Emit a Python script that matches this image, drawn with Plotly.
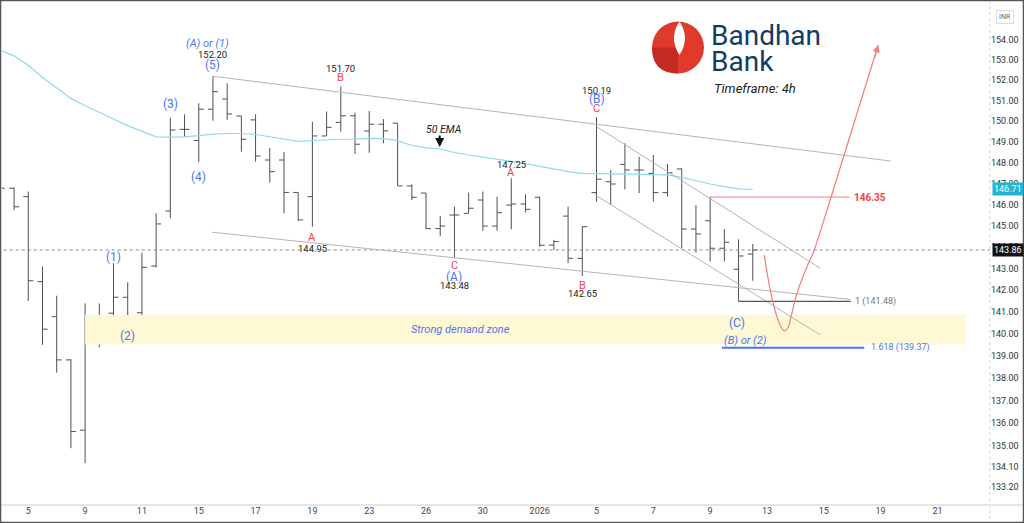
import numpy as np
import plotly.graph_objects as go

# ---------------- data ----------------
bar_index = list(range(-2, 52))
opens = [146.90, 146.77, 146.37, 142.39, 140.78, 138.82, 135.69, 140.28, 140.94, 141.67,
         140.96, 143.11, 145.69, 149.60, 149.06, 150.58, 151.08, 150.25, 150.06, 148.12,
         148.12, 146.57, 146.37, 149.28, 149.94, 150.26, 149.52, 149.85, 149.90, 146.88,
         146.54, 144.86, 145.50, 145.58, 146.21, 144.98, 145.97, 146.02, 146.34, 144.09,
         145.45, 143.47, 146.56, 147.08, 147.91, 147.64, 147.48, 146.56, 147.69, 144.84,
         145.23, 143.94, 142.96, 143.67]
highs = [147.10, 146.80, 146.61, 143.08, 141.74, 138.85, 141.39, 141.39, 143.24, 142.36,
         143.73, 145.58, 150.17, 150.33, 150.87, 152.20, 151.85, 150.25, 150.33, 148.69,
         148.51, 146.57, 149.97, 150.47, 151.70, 150.41, 150.49, 150.10, 149.90, 146.96,
         146.54, 145.46, 145.90, 146.56, 146.61, 146.37, 147.25, 146.48, 146.37, 144.33,
         145.90, 144.95, 150.19, 147.64, 148.93, 148.28, 148.36, 147.93, 147.72, 145.97,
         146.35, 144.83, 144.36, 144.14]
lows = [146.60, 145.74, 141.50, 139.50, 138.25, 134.90, 134.25, 139.39, 140.18, 140.40,
        140.51, 143.05, 145.35, 149.25, 148.01, 150.02, 150.06, 148.52, 148.04, 147.04,
        145.58, 145.23, 144.95, 149.28, 149.49, 148.41, 148.47, 148.93, 146.88, 146.21,
        144.83, 144.50, 143.48, 145.58, 144.76, 144.76, 144.83, 145.61, 144.01, 143.86,
        143.25, 142.65, 146.13, 145.97, 146.72, 146.54, 146.13, 146.37, 143.94, 143.73,
        143.32, 143.32, 141.48, 142.43]
closes = [146.77, 145.89, 142.43, 140.21, 138.82, 135.63, 140.30, 140.83, 141.67, 140.68,
          143.05, 145.08, 149.57, 149.60, 150.58, 151.44, 150.35, 149.12, 148.31, 147.56,
          146.57, 145.27, 149.28, 149.70, 150.26, 148.88, 149.85, 149.53, 146.88, 146.34,
          144.86, 144.98, 145.50, 145.82, 144.98, 145.61, 146.02, 145.77, 144.08, 144.25,
          143.47, 144.95, 147.20, 146.97, 147.64, 147.64, 146.56, 147.51, 144.84, 144.61,
          143.94, 144.22, 143.58, 143.86]
ema50 = [153.50, 153.21, 152.74, 152.14, 151.62, 151.11, 150.75, 150.41, 150.10, 149.78,
         149.50, 149.24, 149.22, 149.24, 149.30, 149.37, 149.40, 149.40, 149.35, 149.23,
         149.11, 149.02, 149.06, 149.10, 149.12, 149.13, 149.16, 149.15, 149.05, 148.82,
         148.70, 148.65, 148.48, 148.36, 148.26, 148.14, 148.06, 147.95, 147.81, 147.69,
         147.56, 147.48, 147.46, 147.45, 147.44, 147.43, 147.42, 147.41, 147.29, 147.12,
         146.97, 146.85, 146.74, 146.71]

tick_pos = [0, 4, 8, 12, 16, 20, 24, 28, 32, 36, 40, 44, 48, 52, 56, 60, 64]
tick_labels = ["5", "9", "11", "15", "17", "19", "23", "26", "30", "2026",
               "5", "7", "9", "13", "15", "19", "21"]
price_ticks = [154, 153, 152, 151, 150, 149, 148, 147, 146, 145, 144, 143, 142, 141,
               140, 139, 138, 137, 136, 135, 134.1, 133.2]

# drawn lines (bar index, price)
upper_channel_x = [13, 60.7];   upper_channel_y = [152.20, 148.07]
lower_channel_x = [12.94, 57.87]; lower_channel_y = [144.69, 141.57]
desc_upper_x = [40, 55.75];     desc_upper_y = [149.73, 143.01]
desc_lower_x = [39.9, 55.75];   desc_lower_y = [146.45, 139.95]
level_red_x = [48, 57.82];      level_red = 146.35
fib_1_x = [50, 57.9];           fib_1 = 141.48
fib_1618_x = [48.83, 58.85];    fib_1618 = 139.37
zone_x = [4, 65.97];            zone_top, zone_bot = 140.86, 139.51
last_price = 143.86
ema_last = 146.71
curve_x = [51.81, 52.23, 52.70, 53.00, 53.22, 53.50, 53.64, 54.11, 54.82, 55.28, 56.45, 59.83]
curve_y = [143.63, 142.00, 140.78, 140.30, 140.13, 140.30, 140.63, 141.85, 143.08, 143.78, 146.21, 153.75]

BLUE = "#4a77ef"
RED = "#f2414f"
DARK = "#222222"
L = np.log10

fig = go.Figure()

# demand zone
fig.add_trace(go.Scatter(x=[zone_x[0], zone_x[1], zone_x[1], zone_x[0], zone_x[0]],
                         y=[zone_top, zone_top, zone_bot, zone_bot, zone_top],
                         fill="toself", fillcolor="#fff8d4", mode="lines",
                         line=dict(width=0), hoverinfo="skip"))
# last price dotted line
fig.add_trace(go.Scatter(x=[-3, 70], y=[last_price, last_price], mode="lines",
                         line=dict(color="#888888", width=1, dash="dot"), hoverinfo="skip"))
# EMA
fig.add_trace(go.Scatter(x=bar_index, y=ema50, mode="lines",
                         line=dict(color="#8edbe8", width=1.2), hoverinfo="skip"))
# trendlines
for xs, ys in [(upper_channel_x, upper_channel_y), (lower_channel_x, lower_channel_y),
               (desc_upper_x, desc_upper_y), (desc_lower_x, desc_lower_y)]:
    fig.add_trace(go.Scatter(x=xs, y=ys, mode="lines",
                             line=dict(color="#b4b4b4", width=1), hoverinfo="skip"))
# levels
fig.add_trace(go.Scatter(x=level_red_x, y=[level_red] * 2, mode="lines",
                         line=dict(color="#f47c7c", width=1), hoverinfo="skip"))
fig.add_trace(go.Scatter(x=fib_1_x, y=[fib_1] * 2, mode="lines",
                         line=dict(color="#555555", width=1.3), hoverinfo="skip"))
fig.add_trace(go.Scatter(x=fib_1618_x, y=[fib_1618] * 2, mode="lines",
                         line=dict(color=BLUE, width=2), hoverinfo="skip"))
# projection curve
fig.add_trace(go.Scatter(x=curve_x, y=curve_y, mode="lines", line_shape="spline",
                         line=dict(color="#f47c7c", width=1.2), hoverinfo="skip"))
# OHLC bars
fig.add_trace(go.Ohlc(x=bar_index, open=opens, high=highs, low=lows, close=closes,
                      increasing=dict(line=dict(color="#505050", width=1)),
                      decreasing=dict(line=dict(color="#505050", width=1)),
                      tickwidth=0.35, hoverinfo="skip"))

ann = []


def lab(text, x, price, yshift, color, size, italic=False, bold=False, xanchor="center",
        family="Roboto"):
    t = text
    if bold:
        t = "<b>" + t + "</b>"
    if italic:
        t = "<i>" + t + "</i>"
    ann.append(dict(text=t, x=x, y=L(price), xref="x", yref="y", yshift=yshift,
                    showarrow=False, xanchor=xanchor, yanchor="middle",
                    font=dict(color=color, size=size, family=family)))


lab("(A) or (1)", 12.6, 152.20, 33, BLUE, 11, italic=True)
lab("152.20", 13, 152.20, 22, DARK, 9.5)
lab("(5)", 13, 152.20, 11.5, BLUE, 12)
lab("(3)", 10, 150.17, 14, BLUE, 12)
lab("(4)", 12, 148.01, -15, BLUE, 12)
lab("(1)", 6, 143.24, 6, BLUE, 12)
lab("(2)", 7, 140.40, -11, BLUE, 12)
lab("151.70", 22, 151.70, 17.5, DARK, 9.5)
lab("B", 22, 151.70, 8.5, RED, 11)
lab("A", 20, 144.95, -10.6, RED, 11)
lab("144.95", 20, 144.95, -21.6, DARK, 9.5)
lab("50 EMA", 29.2, 148.65, 19.7, DARK, 10.5, italic=True)
lab("147.25", 34, 147.25, 14, DARK, 9.5)
lab("A", 34, 147.25, 6, RED, 11)
lab("C", 30, 143.48, -7, RED, 11)
lab("(A)", 30, 143.48, -18.6, BLUE, 12)
lab("143.48", 30, 143.48, -27, DARK, 9.5)
lab("B", 39, 142.65, -9, RED, 11)
lab("142.65", 39, 142.65, -17.3, DARK, 9.5)
lab("150.19", 40, 150.19, 27, DARK, 9.5)
lab("(B)", 40, 150.19, 18, BLUE, 12)
lab("C", 40, 150.19, 8.7, RED, 11)
lab("(C)", 49.89, fib_1, -21.6, BLUE, 12)
lab("(B) or (2)", 50.52, fib_1618, 6.8, BLUE, 11, italic=True)
lab("146.35", 58.0, level_red, 0, RED, 10, bold=True, xanchor="left")
lab("1 (141.48)", 58.08, fib_1, 0, "#777777", 9, xanchor="left")
lab("1.618 (139.37)", 59.15, fib_1618, 0, BLUE, 9, xanchor="left")
lab("Strong demand zone", 30.4, 140.18, 0, BLUE, 11, italic=True)

# 50 EMA arrow
ann.append(dict(text="", x=28.96, y=L(148.65), xref="x", yref="y", yshift=2,
                showarrow=True, ax=0, ay=-13, arrowhead=2, arrowsize=0.9,
                arrowwidth=2, arrowcolor="#111111"))
# projection arrow head
ann.append(dict(text="", x=curve_x[-1], y=L(curve_y[-1]), xref="x", yref="y",
                showarrow=True, ax=-4, ay=14, arrowhead=2, arrowsize=1.2,
                arrowwidth=1.2, arrowcolor="#f47c7c"))

# price badges
for val, bg in [(ema_last, "#22b5cf"), (last_price, "#111111")]:
    ann.append(dict(text=f"{val:.2f}", x=1.0, y=L(val), xref="paper", yref="y",
                    xanchor="left", yanchor="middle", showarrow=False, xshift=2,
                    bgcolor=bg, borderpad=1,
                    font=dict(color="white", size=9, family="Roboto")))
ann.append(dict(text="INR", x=1.0, y=0.985, xref="paper", yref="paper", xanchor="left",
                xshift=6, showarrow=False, bordercolor="#dddddd", borderwidth=1, borderpad=2,
                font=dict(color="#666666", size=7, family="Roboto")))

# logo texts
ann.append(dict(text="Bandhan", x=0.7183, y=0.9333, xref="paper", yref="paper",
                xanchor="left", yanchor="middle", showarrow=False, xshift=-3,
                font=dict(color="#123d63", size=28, family="Roboto")))
ann.append(dict(text="Bank", x=0.7183, y=0.8805, xref="paper", yref="paper",
                xanchor="left", yanchor="middle", showarrow=False, xshift=-3,
                font=dict(color="#123d63", size=28, family="Roboto")))
ann.append(dict(text="<i>Timeframe: 4h</i>", x=0.7183, y=0.8281, xref="paper",
                yref="paper", xanchor="left", yanchor="middle", showarrow=False,
                font=dict(color="#222222", size=13, family="Roboto")))

shapes = []
# logo circle
shapes.append(dict(type="circle", xref="paper", yref="paper", x0=0.6579, x1=0.7105,
                   y0=0.8576, y1=0.9612, fillcolor="#e03a2b", line=dict(width=0)))
shapes.append(dict(type="path", xref="paper", yref="paper",
                   path="M 0.6579 0.9094 Q 0.6579 0.8576 0.6842 0.8576 L 0.6842 0.9094 Z",
                   fillcolor="#c22a22", line=dict(width=0)))
shapes.append(dict(type="path", xref="paper", yref="paper",
                   path="M 0.6857 0.9612 Q 0.6746 0.9283 0.6857 0.8944 Q 0.6968 0.9283 0.6857 0.9612 Z",
                   fillcolor="white", line=dict(width=0)))
# price-axis separator
shapes.append(dict(type="line", xref="paper", yref="paper", x0=1.0, x1=1.0, y0=-0.03, y1=1.0,
                   line=dict(color="#cfcfcf", width=1, dash="dot")))
# bottom axis band
shapes.append(dict(type="line", xref="paper", yref="paper", x0=-0.003, x1=1.035, y0=-0.002,
                   y1=-0.002, line=dict(color="#e6e6e6", width=2)))
# frame
shapes.append(dict(type="rect", xref="paper", yref="paper", x0=-0.0015, x1=1.0339,
                   y0=-0.0369, y1=1.003, line=dict(color="#555555", width=1.5)))

fig.update_layout(
    width=1024, height=523,
    margin=dict(l=2, r=34, t=2, b=19),
    paper_bgcolor="white", plot_bgcolor="white",
    showlegend=False,
    annotations=ann, shapes=shapes,
    xaxis=dict(range=[-1.85, 67.7], tickvals=tick_pos, ticktext=tick_labels,
               showgrid=False, zeroline=False, ticks="", rangeslider=dict(visible=False),
               tickfont=dict(size=9, color="#444444", family="Roboto"), fixedrange=True),
    yaxis=dict(type="log", range=[L(132.48), L(155.91)], side="right",
               tickvals=price_ticks, ticktext=[f"{v:.2f}" for v in price_ticks],
               showgrid=False, zeroline=False, ticks="",
               tickfont=dict(size=9, color="#333333", family="Roboto"), fixedrange=True),
)

fig.write_html("out.html")
